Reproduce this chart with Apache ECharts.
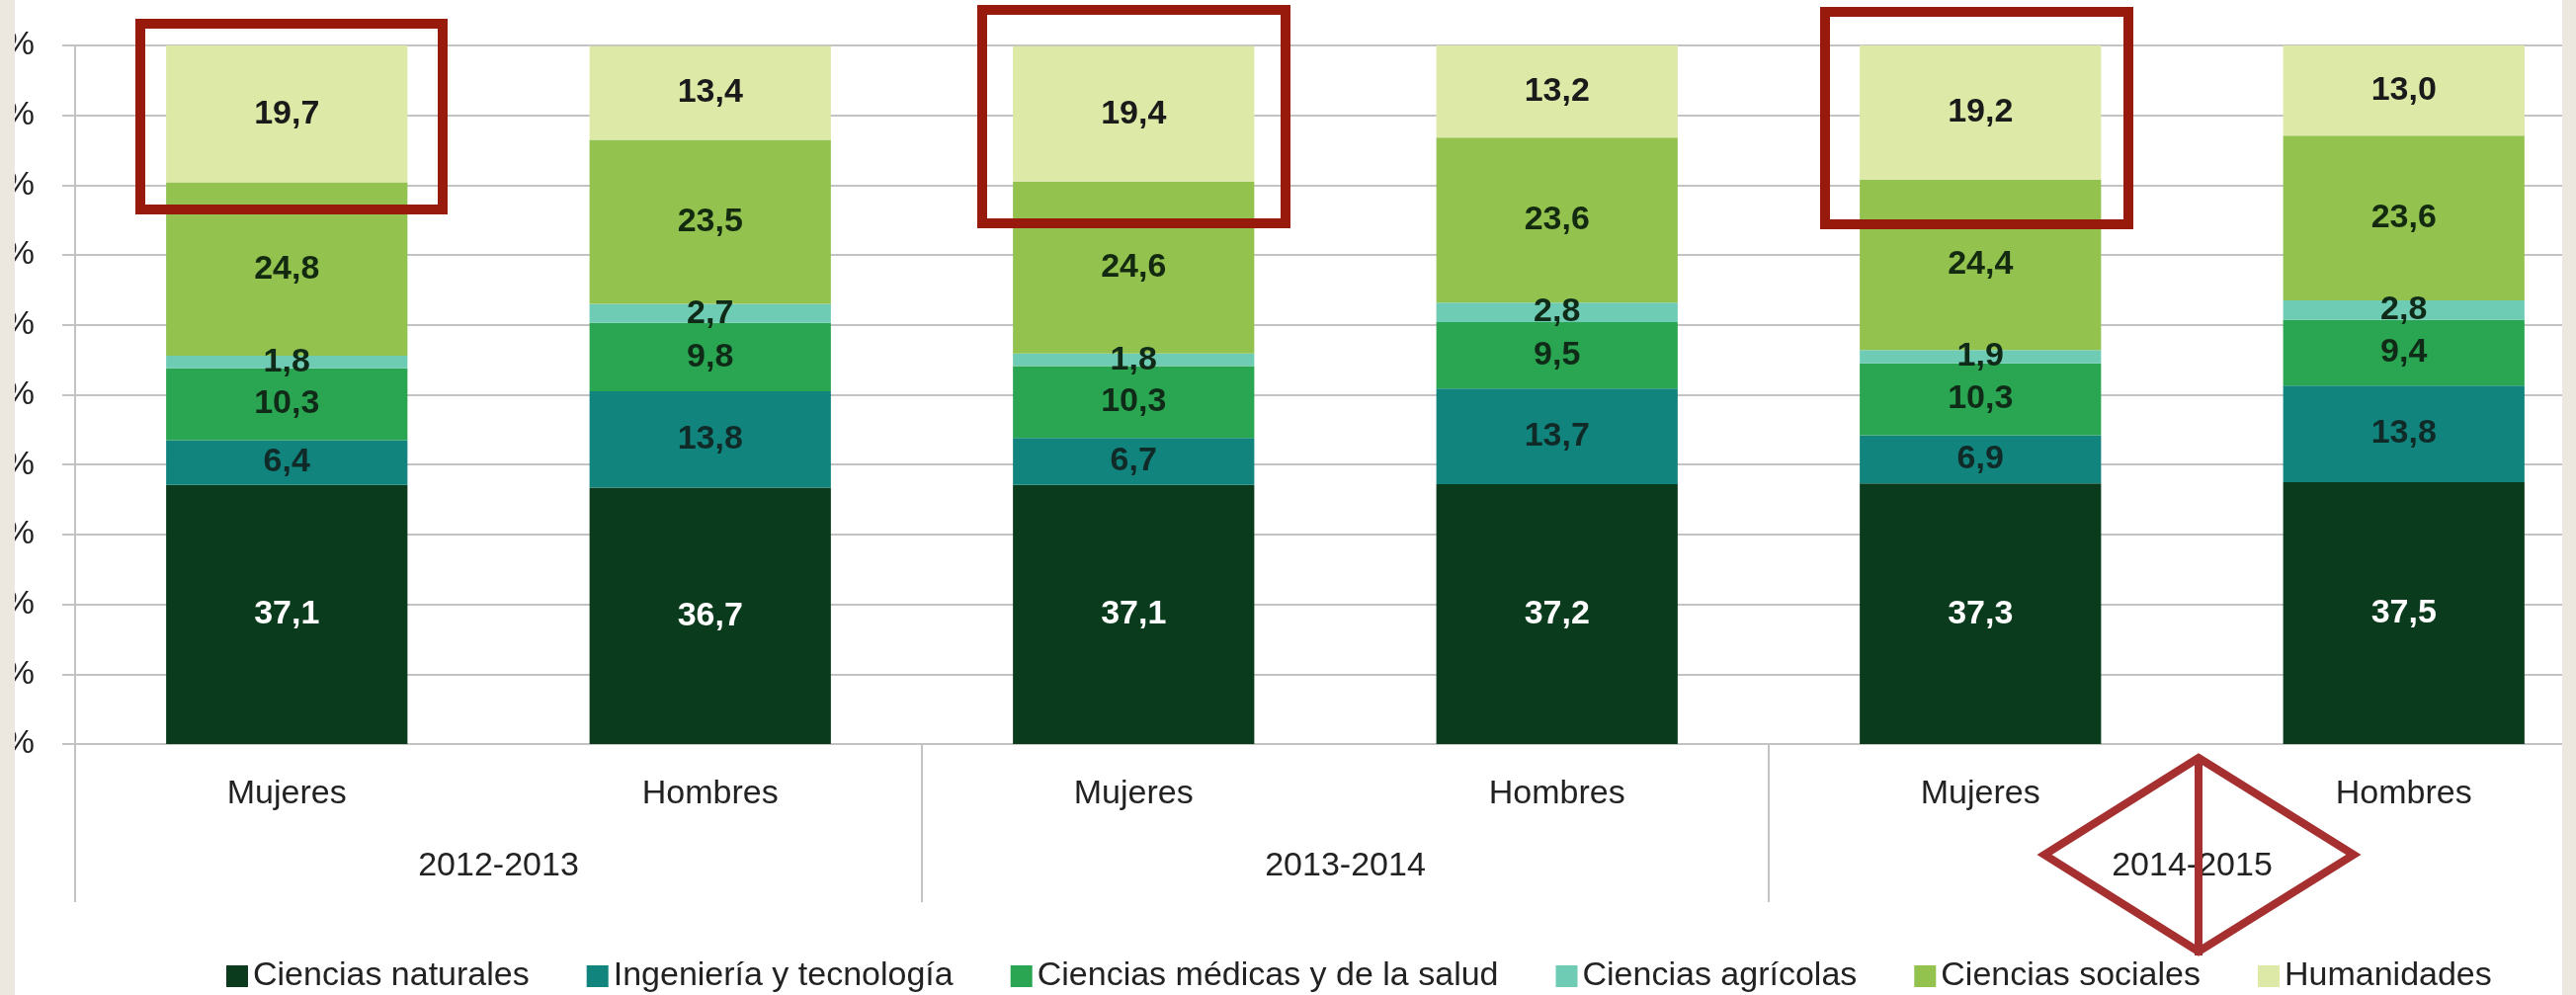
<!DOCTYPE html>
<html>
<head>
<meta charset="utf-8">
<script src="https://cdn.jsdelivr.net/npm/echarts@6/dist/echarts.min.js"></script>
<style>
  html, body { margin: 0; padding: 0; background: #fff; }
  #chart { width: 2607px; height: 1007px; }
</style>
</head>
<body>
<div id="chart"></div>
<script>
// categorías (nivel 1 y nivel 2 del eje)
const sexos = ['Mujeres', 'Hombres', 'Mujeres', 'Hombres', 'Mujeres', 'Hombres']
const cursos = ['2012-2013', '2013-2014', '2014-2015']

// porcentaje por área de conocimiento
const cienciasNaturales = [37.1, 36.7, 37.1, 37.2, 37.3, 37.5]
const ingenieria = [6.4, 13.8, 6.7, 13.7, 6.9, 13.8]
const cienciasMedicas = [10.3, 9.8, 10.3, 9.5, 10.3, 9.4]
const cienciasAgricolas = [1.8, 2.7, 1.8, 2.8, 1.9, 2.8]
const cienciasSociales = [24.8, 23.5, 24.6, 23.6, 24.4, 23.6]
const humanidades = [19.7, 13.4, 19.4, 13.2, 19.2, 13.0]

const FONT = "'Liberation Sans', Arial, sans-serif"
const GRIS = '#c3c3c3'

const chart = echarts.init(document.getElementById('chart'))

// una serie apilada
const serie = (name, data, color, labelColor) => {
  return {
    name: name,
    type: 'bar',
    stack: 'total',
    barWidth: '57%',
    data: data,
    itemStyle: { color: color },
    label: {
      show: true,
      position: 'inside',
      color: labelColor,
      fontFamily: FONT,
      fontSize: 34,
      fontWeight: 'bold',
      formatter: p => p.value.toFixed(1).replace('.', ',')
    }
  }
}

// recuadros rojos de la imagen original
const marcos = [
  [142, 24, 306, 188],
  [994, 10, 307, 216],
  [1847, 12, 307, 215]
].map(r => {
  return {
    type: 'rect',
    z: 100,
    shape: { x: r[0], y: r[1], width: r[2], height: r[3] },
    style: { fill: null, stroke: '#981a0c', lineWidth: 10 }
  }
})

chart.setOption({
  animation: false,
  backgroundColor: '#ffffff',
  textStyle: { fontFamily: FONT },
  // el gráfico original está recortado por la derecha y por la izquierda
  grid: { left: 76, top: 46, width: 2571, height: 707, outerBoundsMode: 'none', containLabel: false },
  legend: {
    left: 224,
    top: 966,
    icon: 'rect',
    itemWidth: 22,
    itemHeight: 22,
    itemGap: 58,
    textStyle: { fontFamily: FONT, fontSize: 34, color: '#222' }
  },
  xAxis: [
    {
      type: 'category',
      data: sexos,
      position: 'bottom',
      axisLine: { show: true, lineStyle: { color: GRIS, width: 2 } },
      axisTick: { show: false },
      axisLabel: { margin: 34, fontFamily: FONT, fontSize: 34, color: '#222' }
    },
    {
      type: 'category',
      data: cursos,
      position: 'bottom',
      axisLine: { show: false },
      axisTick: { show: true, length: 160, lineStyle: { color: GRIS, width: 2 } },
      axisLabel: { margin: 107, fontFamily: FONT, fontSize: 34, color: '#222' }
    }
  ],
  yAxis: {
    type: 'value',
    min: 0,
    max: 100,
    interval: 10,
    axisLine: { show: true, lineStyle: { color: GRIS, width: 2 } },
    axisTick: { show: true, length: 13, lineStyle: { color: GRIS, width: 2 } },
    axisLabel: { margin: 41, formatter: '{value}%', fontFamily: FONT, fontSize: 34, color: '#222' },
    splitLine: { lineStyle: { color: GRIS, width: 2 } }
  },
  series: [
    serie('Ciencias naturales', cienciasNaturales, '#0b3b1d', '#ffffff'),
    serie('Ingeniería y tecnología', ingenieria, '#12847e', '#102a28'),
    serie('Ciencias médicas y de la salud', cienciasMedicas, '#2aa551', '#102a18'),
    serie('Ciencias agrícolas', cienciasAgricolas, '#6ecbb4', '#102a18'),
    serie('Ciencias sociales', cienciasSociales, '#93c24f', '#132a10'),
    serie('Humanidades', humanidades, '#dde9a6', '#1a1a1a')
  ],
  graphic: marcos.concat([
    {
      type: 'polygon',
      z: 100,
      shape: { points: [[2225, 767], [2382, 865], [2225, 963], [2069, 865]] },
      style: { fill: null, stroke: '#a5302f', lineWidth: 8 }
    },
    {
      type: 'line',
      z: 100,
      shape: { x1: 2225, y1: 765, x2: 2225, y2: 967 },
      style: { stroke: '#a5302f', lineWidth: 8 }
    },
    // bordes beige de la fotografía
    { type: 'rect', z: 90, shape: { x: 0, y: 0, width: 15, height: 1007 }, style: { fill: '#ece8e0' } },
    { type: 'rect', z: 90, shape: { x: 2593, y: 0, width: 14, height: 1007 }, style: { fill: '#ece8e0' } }
  ])
})
</script>
</body>
</html>
